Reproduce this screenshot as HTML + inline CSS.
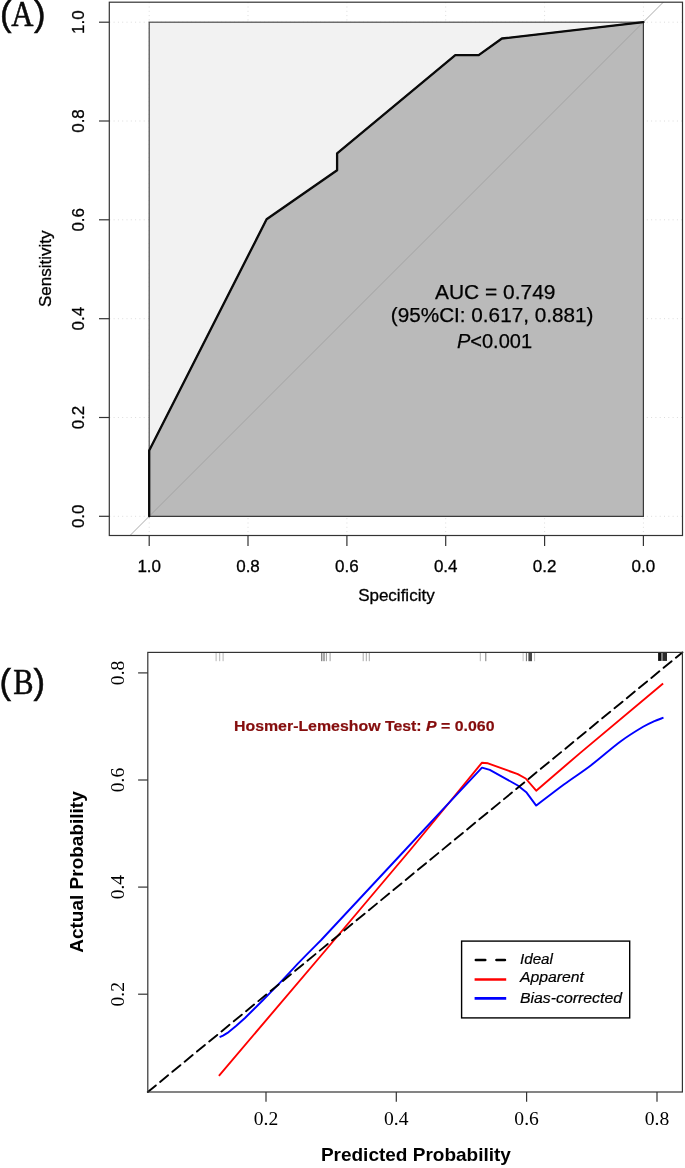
<!DOCTYPE html>
<html>
<head>
<meta charset="utf-8">
<title>Figure</title>
<style>
html,body{margin:0;padding:0;background:#fff;}
svg{display:block;}
.sans{font-family:"Liberation Sans",Arial,Helvetica,sans-serif;}
.serif{font-family:"Liberation Serif","Times New Roman",serif;}
</style>
</head>
<body>
<svg width="685" height="1168" viewBox="0 0 685 1168">
<rect x="0" y="0" width="685" height="1168" fill="#ffffff"/>

<!-- ================= Panel A ================= -->
<g id="panelA">
  <!-- dotted grid (visible only in margin) -->
  <g stroke="#dcdcdc" stroke-width="1" stroke-dasharray="1 3.3" fill="none">
    <line x1="149.2" y1="2.2" x2="149.2" y2="535.5"/>
    <line x1="248.0" y1="2.2" x2="248.0" y2="535.5"/>
    <line x1="346.9" y1="2.2" x2="346.9" y2="535.5"/>
    <line x1="445.7" y1="2.2" x2="445.7" y2="535.5"/>
    <line x1="544.6" y1="2.2" x2="544.6" y2="535.5"/>
    <line x1="643.4" y1="2.2" x2="643.4" y2="535.5"/>
    <line x1="109.3" y1="22.2" x2="682.5" y2="22.2"/>
    <line x1="109.3" y1="121.0" x2="682.5" y2="121.0"/>
    <line x1="109.3" y1="219.8" x2="682.5" y2="219.8"/>
    <line x1="109.3" y1="318.7" x2="682.5" y2="318.7"/>
    <line x1="109.3" y1="417.5" x2="682.5" y2="417.5"/>
    <line x1="109.3" y1="516.3" x2="682.5" y2="516.3"/>
  </g>
  <!-- max auc polygon -->
  <rect x="149.2" y="22.2" width="494.2" height="494.1" fill="#f2f2f2" stroke="#4a4a4a" stroke-width="1.2"/>
  <!-- auc polygon -->
  <polygon points="149.2,516.3 149.2,450.4 266.6,219.3 337.1,170.2 337.1,153.3 455.3,55.1 478.7,55.1 501.9,38.5 643.4,22.2 643.4,516.3" fill="#bababa" stroke="#3a3a3a" stroke-width="1.2" stroke-linejoin="miter"/>
  <!-- identity line -->
  <line x1="130" y1="535.5" x2="663.3" y2="2.2" stroke="#a0a0a0" stroke-width="0.9"/>
  <!-- ROC curve -->
  <polyline points="149.2,516.3 149.2,450.4 266.6,219.3 337.1,170.2 337.1,153.3 455.3,55.1 478.7,55.1 501.9,38.5 643.4,22.2" fill="none" stroke="#0a0a0a" stroke-width="2.3" stroke-linejoin="round" stroke-linecap="round"/>
  <!-- outer box -->
  <rect x="109.3" y="2.2" width="573.2" height="533.3" fill="none" stroke="#333333" stroke-width="1.2"/>
  <!-- ticks -->
  <g stroke="#333333" stroke-width="1.2" fill="none">
    <line x1="99" y1="22.2" x2="109.3" y2="22.2"/>
    <line x1="99" y1="121.0" x2="109.3" y2="121.0"/>
    <line x1="99" y1="219.8" x2="109.3" y2="219.8"/>
    <line x1="99" y1="318.7" x2="109.3" y2="318.7"/>
    <line x1="99" y1="417.5" x2="109.3" y2="417.5"/>
    <line x1="99" y1="516.3" x2="109.3" y2="516.3"/>
    <line x1="149.2" y1="535.5" x2="149.2" y2="546"/>
    <line x1="248.0" y1="535.5" x2="248.0" y2="546"/>
    <line x1="346.9" y1="535.5" x2="346.9" y2="546"/>
    <line x1="445.7" y1="535.5" x2="445.7" y2="546"/>
    <line x1="544.6" y1="535.5" x2="544.6" y2="546"/>
    <line x1="643.4" y1="535.5" x2="643.4" y2="546"/>
  </g>
  <!-- tick labels -->
  <g class="sans" font-size="17" fill="#000000" stroke="#000000" stroke-width="0.3" text-anchor="middle">
    <text x="149.2" y="571.5">1.0</text>
    <text x="248.0" y="571.5">0.8</text>
    <text x="346.9" y="571.5">0.6</text>
    <text x="445.7" y="571.5">0.4</text>
    <text x="544.6" y="571.5">0.2</text>
    <text x="643.4" y="571.5">0.0</text>
    <text transform="translate(84,22.2) rotate(-90)">1.0</text>
    <text transform="translate(84,121.0) rotate(-90)">0.8</text>
    <text transform="translate(84,219.8) rotate(-90)">0.6</text>
    <text transform="translate(84,318.7) rotate(-90)">0.4</text>
    <text transform="translate(84,417.5) rotate(-90)">0.2</text>
    <text transform="translate(84,516.3) rotate(-90)">0.0</text>
  </g>
  <text class="sans" font-size="17" fill="#000000" stroke="#000000" stroke-width="0.3" text-anchor="middle" x="396.4" y="600.7">Specificity</text>
  <text class="sans" font-size="17" fill="#000000" stroke="#000000" stroke-width="0.3" text-anchor="middle" transform="translate(51.1,268.8) rotate(-90)">Sensitivity</text>
  <!-- annotation -->
  <g class="sans" font-size="20" fill="#000000" stroke="#000000" stroke-width="0.25" text-anchor="middle">
    <text x="495.2" y="298.6" textLength="120.5" lengthAdjust="spacingAndGlyphs">AUC = 0.749</text>
    <text x="492.1" y="321.6" textLength="202.5" lengthAdjust="spacingAndGlyphs">(95%CI: 0.617, 0.881)</text>
    <text x="494.5" y="347.6"><tspan font-style="italic">P</tspan>&lt;0.001</text>
  </g>
  <g class="serif" font-size="36" fill="#0a0a0a" stroke="#0a0a0a" stroke-width="0.55">
    <text class="sans" font-size="34.7" x="-0.1" y="26.0" stroke-width="0.5">(</text>
    <text transform="translate(11.3,25.7) scale(0.85,1)" font-size="36.2">A</text>
    <text class="sans" font-size="34.7" x="33.95" y="26.0" stroke-width="0.5">)</text>
  </g>
</g>

<!-- ================= Panel B ================= -->
<g id="panelB">
  <!-- rug -->
  <g stroke-width="1" fill="none">
    <path d="M216.1,652.4V661.2M219.7,652.4V661.2M223.1,652.4V661.2" stroke="#b5b5b5"/>
    <path d="M321.8,652.4V661.2M324,652.4V661.2" stroke="#555555"/>
    <path d="M326.4,652.4V661.2M330.1,652.4V661.2" stroke="#a0a0a0"/>
    <path d="M363.2,652.4V661.2M366.3,652.4V661.2M369.3,652.4V661.2" stroke="#a8a8a8"/>
    <path d="M480.3,652.4V661.2" stroke="#b5b5b5"/>
    <path d="M485.8,652.4V661.2" stroke="#7a7a7a"/>
    <path d="M523.1,652.4V661.2M534.6,652.4V661.2" stroke="#c4c4c4"/>
    <path d="M526.4,652.4V661.2" stroke="#707070"/>
  </g>
  <rect x="528.4" y="652.4" width="3.6" height="8.8" fill="#4a4a4a"/>
  <rect x="658.1" y="652.4" width="2.9" height="8.5" fill="#101010"/>
  <rect x="661.0" y="652.4" width="2.0" height="8.5" fill="#7a7a7a"/>
  <rect x="663.0" y="652.4" width="4.0" height="8.5" fill="#2a2a2a"/>

  <!-- apparent -->
  <path d="M218.9,1075.8 L325.8,950 L410.2,850 L446,806.5 L481.8,762.8 L488,763.3 L517.8,774.2 L525.7,778.5 L536.2,790.7 L580,753.1 L663.1,683.4" fill="none" stroke="#ff0000" stroke-width="1.9" stroke-linejoin="round" stroke-linecap="butt"/>
  <!-- bias-corrected -->
  <path d="M219.6,1037.2 L223,1035.6 L227.5,1032.9 L236.3,1025.8 L245,1018 L253.8,1009.3 L262.6,1000.5 L271.3,991.7 L280.1,982.6 L288.8,973.3 L297.6,963.8 L306.4,954.9 L315.1,946.1 L321.2,940 L405.1,850 L443.8,808.4 L482,767.6 L489.8,769.8 L517.8,785.5 L526.6,792.6 L536.2,805.6 C540.8,802.1 554.8,791.2 563.9,784.5 C573.0,777.8 581.7,772.4 591.1,765.2 C600.5,758.0 611.8,747.9 620.5,741.5 C629.2,735.1 637.4,730.2 643.1,726.8 C648.8,723.4 651.1,722.6 654.5,721.1 C657.9,719.6 662.0,718.3 663.5,717.7" fill="none" stroke="#0000ff" stroke-width="1.9" stroke-linejoin="round" stroke-linecap="butt"/>

  <!-- ideal -->
  <line x1="147.8" y1="1092" x2="682.4" y2="652.4" stroke="#000000" stroke-width="1.9" stroke-dasharray="10.4 5.5" stroke-linecap="round"/>
  <!-- box -->
  <rect x="147.8" y="652.4" width="534.6" height="439.6" fill="none" stroke="#333333" stroke-width="1.2"/>
  <!-- ticks -->
  <g stroke="#333333" stroke-width="1.2" fill="none">
    <line x1="138.1" y1="672.9" x2="147.8" y2="672.9"/>
    <line x1="138.1" y1="780.0" x2="147.8" y2="780.0"/>
    <line x1="138.1" y1="887.1" x2="147.8" y2="887.1"/>
    <line x1="138.1" y1="994.2" x2="147.8" y2="994.2"/>
    <line x1="266.0" y1="1092" x2="266.0" y2="1101.8"/>
    <line x1="396.3" y1="1092" x2="396.3" y2="1101.8"/>
    <line x1="526.6" y1="1092" x2="526.6" y2="1101.8"/>
    <line x1="657.0" y1="1092" x2="657.0" y2="1101.8"/>
  </g>
  <g class="serif" font-size="19.6" fill="#000000" text-anchor="middle">
    <text x="266.0" y="1124.5">0.2</text>
    <text x="396.3" y="1124.5">0.4</text>
    <text x="526.6" y="1124.5">0.6</text>
    <text x="657.0" y="1124.5">0.8</text>
    <text transform="translate(123.8,672.9) rotate(-90)">0.8</text>
    <text transform="translate(123.8,780.0) rotate(-90)">0.6</text>
    <text transform="translate(123.8,887.1) rotate(-90)">0.4</text>
    <text transform="translate(123.8,994.2) rotate(-90)">0.2</text>
  </g>
  <text class="sans" font-size="19" font-weight="bold" fill="#000000" text-anchor="middle" x="415.9" y="1160.5">Predicted Probability</text>
  <text class="sans" font-size="19" font-weight="bold" fill="#000000" text-anchor="middle" transform="translate(82.7,872) rotate(-90)">Actual Probability</text>
  <text class="sans" font-size="15.5" font-weight="bold" fill="#850d0d" stroke="#850d0d" stroke-width="0.2" x="234" y="730.7" textLength="260.5" lengthAdjust="spacingAndGlyphs">Hosmer-Lemeshow Test: <tspan font-style="italic">P</tspan> = 0.060</text>

  <!-- legend -->
  <rect x="461.6" y="941.1" width="168.1" height="76.8" fill="#ffffff" stroke="#000000" stroke-width="1.4"/>
  <line x1="475.9" y1="960" x2="504.9" y2="960" stroke="#000000" stroke-width="2.7" stroke-dasharray="9.3 11.3" stroke-linecap="round"/>
  <line x1="474.6" y1="979.5" x2="506.2" y2="979.5" stroke="#ff0000" stroke-width="2.7"/>
  <line x1="474.6" y1="998.3" x2="506.2" y2="998.3" stroke="#0000ff" stroke-width="2.7"/>
  <g class="sans" font-size="15.2" font-style="italic" fill="#000000" stroke="#000000" stroke-width="0.2">
    <text x="520" y="964.4">Ideal</text>
    <text x="520" y="982.4" textLength="64" lengthAdjust="spacingAndGlyphs">Apparent</text>
    <text x="520" y="1002.6" textLength="102" lengthAdjust="spacingAndGlyphs">Bias-corrected</text>
  </g>
  <g class="serif" font-size="36" fill="#0a0a0a" stroke="#0a0a0a" stroke-width="0.55">
    <text class="sans" font-size="34.7" x="-0.5" y="694.3" stroke-width="0.5">(</text>
    <text transform="translate(13.3,694.2) scale(0.845,1)" font-size="36">B</text>
    <text class="sans" font-size="34.7" x="33.55" y="694.3" stroke-width="0.5">)</text>
  </g>
</g>
</svg>
</body>
</html>
